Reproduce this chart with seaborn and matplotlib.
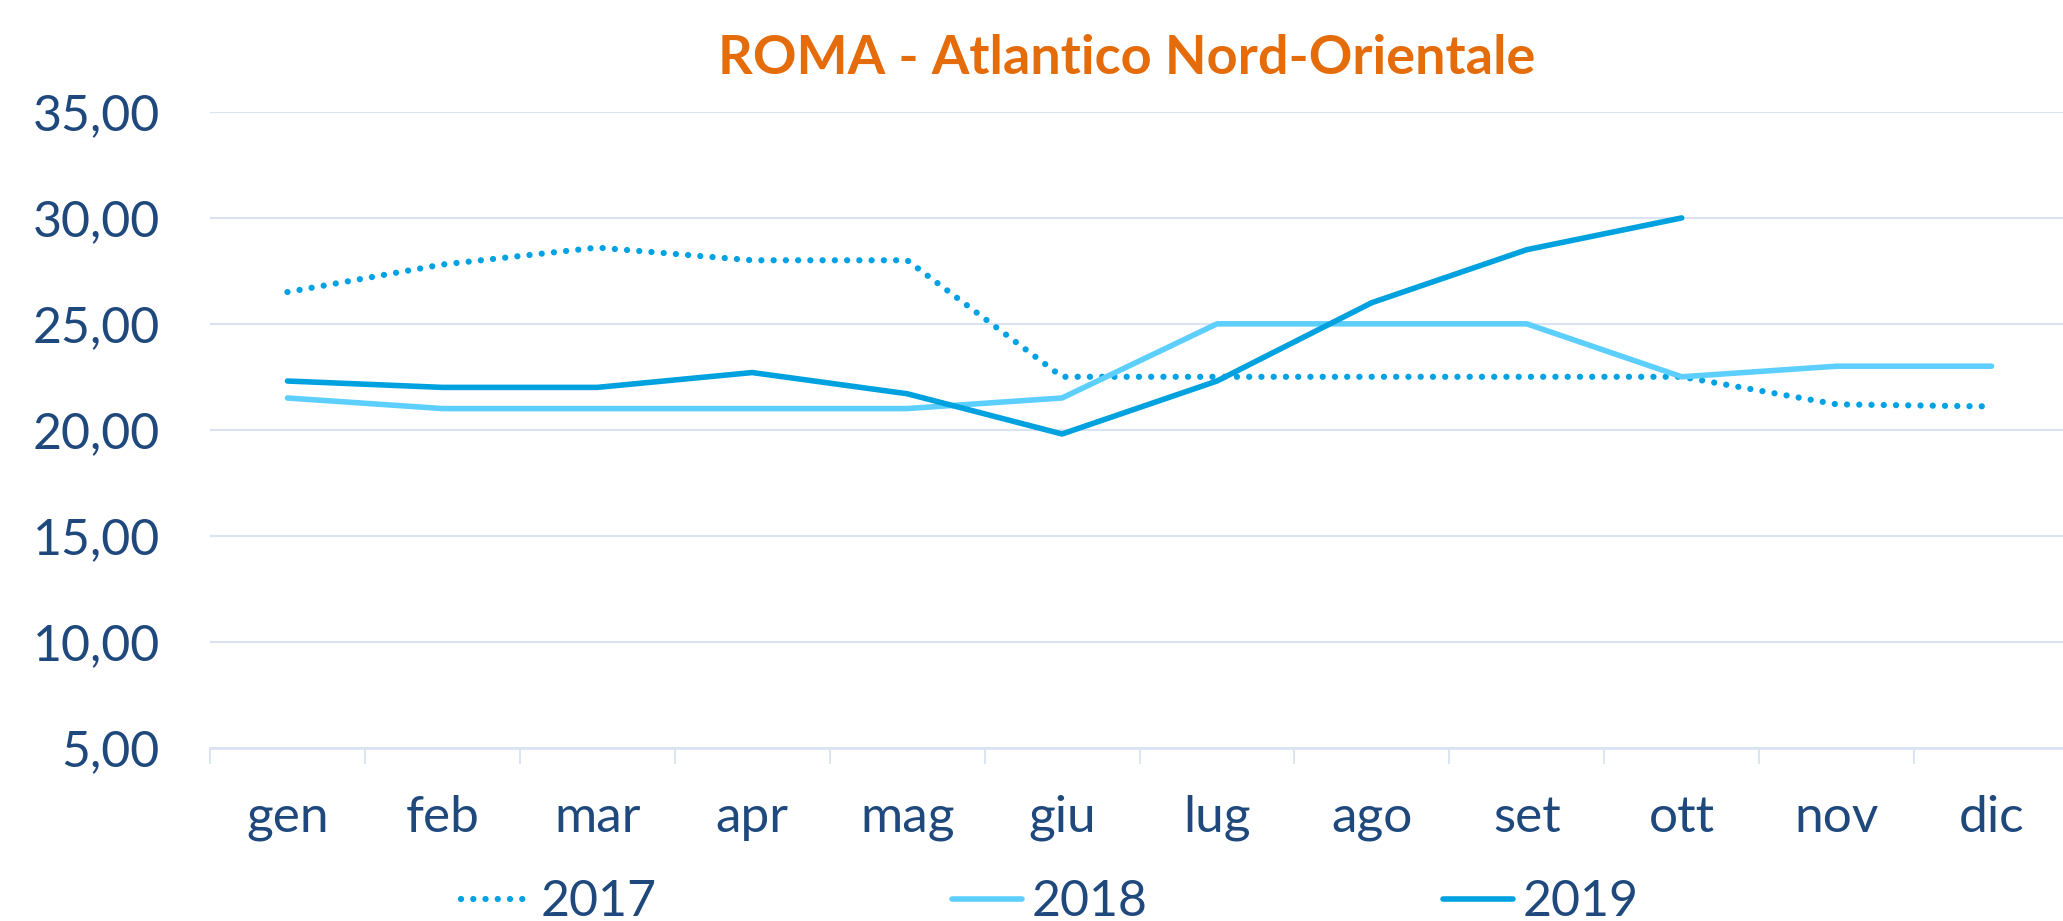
import matplotlib
matplotlib.use("Agg")
import matplotlib.pyplot as plt
import seaborn as sns
import numpy as np
import pandas as pd

# Dati
mesi = ['gen', 'feb', 'mar', 'apr', 'mag', 'giu', 'lug', 'ago', 'set', 'ott', 'nov', 'dic']
anni = ['2017', '2018', '2019']
val_2017 = [26.5, 27.8, 28.6, 28.0, 28.0, 22.5, 22.5, 22.5, 22.5, 22.5, 21.2, 21.1]
val_2018 = [21.5, 21.0, 21.0, 21.0, 21.0, 21.5, 25.0, 25.0, 25.0, 22.5, 23.0, 23.0]
val_2019 = [22.3, 22.0, 22.0, 22.7, 21.7, 19.8, 22.3, 26.0, 28.5, 30.0, np.nan, np.nan]
y_ticks = [5, 10, 15, 20, 25, 30, 35]
titolo = "ROMA - Atlantico Nord-Orientale"

colori = {'2017': '#00A2E3', '2018': '#5CCFFF', '2019': '#00A1DF'}
testo_col = '#1F497D'
griglia_col = '#D9E3F1'

df = pd.DataFrame({'mese': mesi * 3,
                   'anno': ['2017'] * 12 + ['2018'] * 12 + ['2019'] * 12,
                   'valore': val_2017 + val_2018 + val_2019})

sns.set_style("white")
plt.rcParams['font.family'] = ['Lato', 'DejaVu Sans']

fig = plt.figure(figsize=(20.63, 9.21), dpi=100)
ax = fig.add_axes([210 / 2063, 1 - 747.5 / 921, 1859 / 2063, (747.5 - 112) / 921])

for anno in anni:
    sub = df[df['anno'] == anno]
    if anno == '2017':
        sns.lineplot(data=sub, x='mese', y='valore', ax=ax, color=colori[anno],
                     lw=4.5, label=anno, sort=False)
        ax.lines[-1].set_dashes((0.01, 1.95))
        ax.lines[-1].set_dash_capstyle('round')
    else:
        sns.lineplot(data=sub, x='mese', y='valore', ax=ax, color=colori[anno],
                     lw=4.0, label=anno, sort=False)
        ax.lines[-1].set_solid_capstyle('round')

ax.set_xlim(-0.5, 11.5)
ax.set_ylim(5, 35)
ax.set_yticks(y_ticks)
ax.set_yticklabels([f"{v:.2f}".replace('.', ',') for v in y_ticks])
ax.set_xticks(range(12))
ax.set_xticklabels(mesi)
ax.set_xticks(np.arange(-0.5, 12, 1), minor=True)
ax.set_xlabel('')
ax.set_ylabel('')

ax.grid(axis='y', color=griglia_col, lw=1.5)
ax.grid(axis='x', visible=False)
for s in ['top', 'right', 'left']:
    ax.spines[s].set_visible(False)
ax.spines['bottom'].set_color(griglia_col)
ax.spines['bottom'].set_linewidth(2)

ax.tick_params(axis='y', length=0, pad=36, labelsize=36, labelcolor=testo_col)
ax.tick_params(axis='x', which='major', length=0, pad=34, labelsize=37, labelcolor=testo_col)
ax.tick_params(axis='x', which='minor', bottom=True, length=11.5, width=1.3, color=griglia_col)

fig.text(1127 / 2063, 1 - 59 / 921, titolo, ha='center', va='center',
         fontsize=39, fontweight='bold', color='#E46C0A')

ax.get_legend().remove()
h, l = ax.get_legend_handles_labels()
leg = fig.legend(h, l, loc='center', bbox_to_anchor=(1050 / 2063, 1 - 902 / 921), ncol=3,
                 frameon=False, fontsize=36, handlelength=1.4, handletextpad=0.2,
                 columnspacing=5.9)
for t in leg.get_texts():
    t.set_color(testo_col)

plt.savefig("out.png", dpi=100)
plt.close()
